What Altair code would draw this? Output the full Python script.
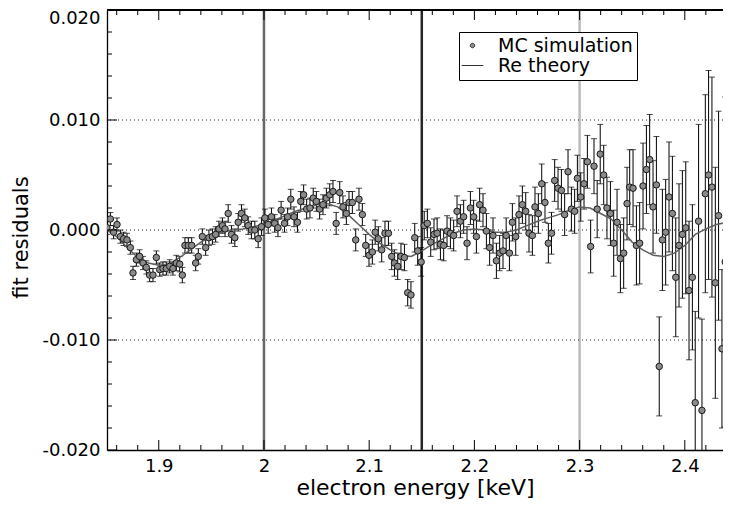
import altair as alt
import pandas as pd

# ---------------- data ----------------
ENERGY = [
    1.8508, 1.8540, 1.8571, 1.8603, 1.8635, 1.8666, 1.8698, 1.8730, 1.8755, 1.8787,
    1.8818, 1.8850, 1.8882, 1.8913, 1.8945, 1.8977, 1.9009, 1.9040, 1.9072, 1.9104,
    1.9135, 1.9167, 1.9199, 1.9224, 1.9249, 1.9281, 1.9313, 1.9351, 1.9376, 1.9414,
    1.9446, 1.9477, 1.9510, 1.9541, 1.9572, 1.9605, 1.9630, 1.9660, 1.9691, 1.9723,
    1.9755, 1.9786, 1.9818, 1.9850, 1.9881, 1.9913, 1.9945, 1.9976, 2.0009, 2.0040,
    2.0071, 2.0102, 2.0133, 2.0163, 2.0195, 2.0225, 2.0255, 2.0286, 2.0318, 2.0349,
    2.0377, 2.0406, 2.0437, 2.0468, 2.0498, 2.0529, 2.0561, 2.0593, 2.0625, 2.0656,
    2.0686, 2.0720, 2.0751, 2.0783, 2.0808, 2.0840, 2.0872, 2.0903, 2.0935, 2.0967,
    2.0998, 2.1030, 2.1057, 2.1087, 2.1119, 2.1150, 2.1183, 2.1214, 2.1240, 2.1271,
    2.1302, 2.1335, 2.1366, 2.1397, 2.1433, 2.1461, 2.1494, 2.1523, 2.1553, 2.1585,
    2.1616, 2.1646, 2.1677, 2.1708, 2.1740, 2.1772, 2.1803, 2.1835, 2.1867, 2.1898,
    2.1930, 2.1962, 2.1993, 2.2019, 2.2050, 2.2082, 2.2114, 2.2145, 2.2177, 2.2209,
    2.2240, 2.2272, 2.2302, 2.2333, 2.2361, 2.2393, 2.2424, 2.2456, 2.2488, 2.2519,
    2.2551, 2.2576, 2.2608, 2.2640, 2.2671, 2.2703, 2.2733, 2.2763, 2.2795, 2.2827,
    2.2858, 2.2890, 2.2922, 2.2953, 2.2979, 2.3011, 2.3042, 2.3074, 2.3105, 2.3137,
    2.3167, 2.3196, 2.3229, 2.3260, 2.3293, 2.3324, 2.3356, 2.3388, 2.3419, 2.3451,
    2.3476, 2.3508, 2.3540, 2.3571, 2.3603, 2.3635, 2.3666, 2.3698, 2.3730, 2.3757,
    2.3787, 2.3818, 2.3850, 2.3882, 2.3914, 2.3945, 2.3977, 2.4009, 2.4040, 2.4072,
    2.4099, 2.4131, 2.4163, 2.4195, 2.4226, 2.4258, 2.4290, 2.4321, 2.4353, 2.4384,
    2.4416, 2.4440,
]

RESIDUAL = [
    0.0002, 0.0010, -0.0002, 0.0005, -0.0006, -0.0008, -0.0009, -0.0016, -0.0039, -0.0027,
    -0.0024, -0.0030, -0.0034, -0.0041, -0.0041, -0.0025, -0.0036, -0.0035, -0.0035, -0.0033,
    -0.0035, -0.0030, -0.0031, -0.0041, -0.0014, -0.0014, -0.0014, -0.0030, -0.0024, -0.0006,
    -0.0016, -0.0007, -0.0006, -0.0004, 0.0001, 0.0004, 0.0001, 0.0015, -0.0004, -0.0007,
    0.0007, 0.0015, 0.0011, 0.0004, 0.0000, 0.0000, -0.0008, 0.0003, 0.0011, 0.0005,
    0.0012, 0.0006, 0.0002, 0.0018, 0.0006, 0.0012, 0.0028, 0.0012, 0.0007, 0.0026,
    0.0032, 0.0019, 0.0020, 0.0029, 0.0026, 0.0019, 0.0023, 0.0029, 0.0032, 0.0035,
    0.0006, 0.0034, 0.0021, 0.0015, 0.0025, 0.0025, -0.0009, 0.0028, 0.0014, -0.0014,
    -0.0023, -0.0020, -0.0002, -0.0008, -0.0018, -0.0003, -0.0003, -0.0024, -0.0030, -0.0033,
    -0.0024, -0.0025, -0.0057, -0.0059, -0.0007, -0.0019, -0.0029, 0.0004, 0.0006, -0.0011,
    -0.0004, -0.0003, -0.0013, -0.0014, -0.0001, -0.0003, -0.0005, 0.0017, 0.0008, 0.0012,
    -0.0012, 0.0020, 0.0012, -0.0006, 0.0023, 0.0018, -0.0001, -0.0016, -0.0005, -0.0028,
    -0.0021, -0.0019, -0.0005, -0.0021, 0.0007, -0.0006, 0.0014, 0.0023, 0.0017, -0.0003,
    -0.0005, 0.0021, 0.0015, 0.0042, 0.0025, -0.0012, -0.0003, 0.0045, 0.0038, 0.0036,
    0.0014, 0.0053, 0.0019, 0.0017, 0.0047, 0.0030, 0.0042, 0.0062, -0.0015, 0.0058,
    0.0019, 0.0069, 0.0050, 0.0020, 0.0015, -0.0012, 0.0007, -0.0026, -0.0021, 0.0024,
    0.0039, 0.0038, -0.0014, -0.0012, 0.0040, 0.0055, 0.0064, 0.0021, 0.0041, -0.0124,
    -0.0009, -0.0002, 0.0030, 0.0015, -0.0043, -0.0014, -0.0004, 0.0002, -0.0055, -0.0043,
    -0.0157, 0.0008, -0.0164, 0.0033, 0.0050, 0.0039, -0.0048, 0.0013, -0.0108, -0.0029,
    0.0012, -0.0006,
]

ERROR = [
    0.0006, 0.0006, 0.0006, 0.0006, 0.0006, 0.0006, 0.0006, 0.0006, 0.0006, 0.0006,
    0.0006, 0.0006, 0.0006, 0.0006, 0.0006, 0.0006, 0.0006, 0.0006, 0.0006, 0.0006,
    0.0006, 0.0007, 0.0007, 0.0007, 0.0007, 0.0007, 0.0007, 0.0007, 0.0007, 0.0007,
    0.0007, 0.0007, 0.0007, 0.0007, 0.0007, 0.0007, 0.0007, 0.0008, 0.0008, 0.0008,
    0.0008, 0.0008, 0.0008, 0.0008, 0.0008, 0.0008, 0.0008, 0.0008, 0.0008, 0.0008,
    0.0008, 0.0008, 0.0008, 0.0008, 0.0008, 0.0008, 0.0009, 0.0009, 0.0009, 0.0009,
    0.0009, 0.0009, 0.0009, 0.0009, 0.0009, 0.0009, 0.0009, 0.0009, 0.0010, 0.0010,
    0.0010, 0.0010, 0.0010, 0.0010, 0.0010, 0.0010, 0.0010, 0.0010, 0.0010, 0.0010,
    0.0010, 0.0011, 0.0011, 0.0011, 0.0011, 0.0011, 0.0011, 0.0012, 0.0012, 0.0012,
    0.0012, 0.0012, 0.0012, 0.0012, 0.0013, 0.0013, 0.0013, 0.0013, 0.0013, 0.0013,
    0.0014, 0.0014, 0.0014, 0.0014, 0.0014, 0.0014, 0.0014, 0.0014, 0.0015, 0.0015,
    0.0015, 0.0015, 0.0015, 0.0015, 0.0015, 0.0015, 0.0016, 0.0016, 0.0016, 0.0016,
    0.0016, 0.0016, 0.0016, 0.0016, 0.0017, 0.0017, 0.0017, 0.0017, 0.0017, 0.0017,
    0.0018, 0.0018, 0.0018, 0.0018, 0.0018, 0.0018, 0.0019, 0.0019, 0.0019, 0.0019,
    0.0019, 0.0020, 0.0020, 0.0020, 0.0021, 0.0022, 0.0023, 0.0024, 0.0024, 0.0025,
    0.0026, 0.0027, 0.0027, 0.0028, 0.0029, 0.0030, 0.0030, 0.0031, 0.0032, 0.0033,
    0.0034, 0.0035, 0.0036, 0.0037, 0.0039, 0.0040, 0.0041, 0.0042, 0.0044, 0.0045,
    0.0046, 0.0048, 0.0050, 0.0052, 0.0054, 0.0056, 0.0058, 0.0060, 0.0063, 0.0066,
    0.0083, 0.0088, 0.0083, 0.0090, 0.0095, 0.0100, 0.0105, 0.0095, 0.0072, 0.0150,
    0.0110, 0.0110,
]

THEORY_E = [
    1.8508, 1.860, 1.870, 1.880, 1.890, 1.900, 1.910, 1.920, 1.930, 1.940,
    1.950, 1.960, 1.970, 1.980, 1.990, 2.000, 2.010, 2.020, 2.030, 2.040,
    2.050, 2.060, 2.070, 2.080, 2.090, 2.100, 2.110, 2.120, 2.130, 2.140,
    2.150, 2.160, 2.170, 2.180, 2.190, 2.200, 2.210, 2.220, 2.230, 2.240,
    2.250, 2.260, 2.270, 2.280, 2.290, 2.300, 2.310, 2.320, 2.330, 2.340,
    2.350, 2.360, 2.370, 2.380, 2.390, 2.400, 2.410, 2.420, 2.430, 2.445,
]
THEORY_V = [
    0.0000, -0.0006, -0.0016, -0.0025, -0.0030, -0.0032, -0.0031, -0.0025, -0.0018, -0.0011,
    -0.0006, -0.0002, 0.0000, 0.0001, 0.0003, 0.0005, 0.0009, 0.0013, 0.0017, 0.0020,
    0.0023, 0.0024, 0.0021, 0.0014, 0.0005, -0.0004, -0.0012, -0.0018, -0.0023, -0.0024,
    -0.0019, -0.0013, -0.0008, -0.0003, 0.0000, 0.0001, 0.0000, -0.0002, -0.0002, 0.0000,
    0.0004, 0.0008, 0.0011, 0.0014, 0.0018, 0.0021, 0.0020, 0.0015, 0.0010, 0.0000,
    -0.0011, -0.0018, -0.0023, -0.0024, -0.0021, -0.0014, -0.0004, 0.0001, 0.0005, 0.0008,
]

SERIES = ["MC simulation", "Re theory"]
MARKER_E = [2.0, 2.15, 2.3]
MARKER_COLORS = ["#686868", "#262626", "#bcbcbc"]

X_LABELS = [1.9, 2.0, 2.1, 2.2, 2.3, 2.4]
X_MINOR = [1.86, 1.88, 1.92, 1.94, 1.96, 1.98, 2.02, 2.04, 2.06, 2.08,
           2.12, 2.14, 2.16, 2.18, 2.22, 2.24, 2.26, 2.28, 2.32, 2.34,
           2.36, 2.38, 2.42, 2.44]
Y_LABELS = [-0.02, -0.01, 0.0, 0.01, 0.02]
Y_GRID = [-0.01, 0.0, 0.01]
Y_MINOR = [-0.018, -0.016, -0.014, -0.012, -0.008, -0.006, -0.004, -0.002,
           0.002, 0.004, 0.006, 0.008, 0.012, 0.014, 0.016, 0.018]

# ---------------- tables ----------------
pts = pd.DataFrame({"E": ENERGY, "v": RESIDUAL, "err": ERROR})
pts["lo"] = pts["v"] - pts["err"]
pts["hi"] = pts["v"] + pts["err"]
theory = pd.DataFrame({"E": THEORY_E, "v": THEORY_V})
markers = pd.DataFrame({"E": MARKER_E, "c": MARKER_COLORS})
grid = pd.DataFrame({"v": Y_GRID})
xmaj = pd.DataFrame({"E": X_LABELS})
xmin = pd.DataFrame({"E": X_MINOR})
ymaj = pd.DataFrame({"v": Y_LABELS})
ymin = pd.DataFrame({"v": Y_MINOR})
legend_rows = pd.DataFrame({"E": pd.Series([], dtype=float),
                            "v": pd.Series([], dtype=float),
                            "series": pd.Series([], dtype=str)})

FONT = "DejaVu Sans"
CIRCLE = "M-0.25,0A0.25,0.25,0,1,1,0.25,0A0.25,0.25,0,1,1,-0.25,0Z"
DASH = "M-1.2,0H1.2"

xscale = alt.Scale(domain=[1.8508, 2.4363], nice=False, zero=False)
yscale = alt.Scale(domain=[-0.02, 0.02], nice=False, zero=False)

xaxis = alt.Axis(values=X_LABELS, format="~g", ticks=False, grid=False,
                 domain=True, domainColor="black", domainWidth=1.3,
                 labelFont=FONT, labelFontSize=18, labelPadding=7, labelColor="black",
                 labelFlush=False, labelOverlap=False,
                 titleFont=FONT, titleFontSize=22, titleFontWeight="normal",
                 titleColor="black", titleBaseline="alphabetic", titleY=44)
yaxis = alt.Axis(values=Y_LABELS,
                 labelExpr="(datum.value < 0 ? '-' : '') + format(abs(datum.value), '.3f')",
                 labelOffset=alt.condition("datum.value > 0.019", alt.value(8), alt.value(0)),
                 ticks=False, grid=False,
                 domain=True, domainColor="black", domainWidth=1.3,
                 labelFont=FONT, labelFontSize=18, labelPadding=7, labelColor="black",
                 labelFlush=False, labelOverlap=False,
                 titleFont=FONT, titleFontSize=21, titleFontWeight="normal",
                 titleColor="black", titleBaseline="alphabetic", titleX=-80, titleY=227)

XT = "electron energy [keV]"
YT = "fit residuals"


def X(field="E"):
    return alt.X(f"{field}:Q", scale=xscale, axis=xaxis, title=XT)


def Y(field="v"):
    return alt.Y(f"{field}:Q", scale=yscale, axis=yaxis, title=YT)


top_line = alt.Chart(xmaj).mark_rule(color="black", strokeWidth=1.3).encode(
    y=alt.value(0))

vlines = alt.Chart(markers).mark_rule(strokeWidth=2.5).encode(
    x=X(), color=alt.Color("c:N", scale=None))

gridlines = alt.Chart(grid).mark_rule(color="#222222", strokeWidth=1, strokeDash=[1, 3]).encode(
    y=Y())

curve = alt.Chart(theory).mark_line(color="#5e5e5e", strokeWidth=1.5, clip=True).encode(
    x=X(), y=Y())

bars = alt.Chart(pts).mark_rule(color="black", strokeWidth=1, clip=True).encode(
    x=X(), y=Y("lo"), y2=alt.Y2("hi"))
caps_lo = alt.Chart(pts).mark_tick(color="black", orient="horizontal", size=6,
                                   thickness=1, clip=True).encode(x=X(), y=Y("lo"))
caps_hi = alt.Chart(pts).mark_tick(color="black", orient="horizontal", size=6,
                                   thickness=1, clip=True).encode(x=X(), y=Y("hi"))

points = alt.Chart(pts).mark_point(filled=True, size=42, shape="circle", fill="#8a8a8a",
                                   stroke="#1a1a1a", strokeWidth=1, opacity=1, clip=True).encode(
    x=X(), y=Y())

legend = alt.Legend(title=None, orient="none", legendX=352, legendY=22,
                    fillColor="white", strokeColor="black", padding=4, cornerRadius=0,
                    labelFont=FONT, labelFontSize=19, labelColor="black", labelOffset=16,
                    labelLimit=400, symbolSize=324, rowPadding=0,
                    symbolStrokeWidth=1, symbolOpacity=1)

legend_layer = alt.Chart(legend_rows).mark_point(
    filled=False, color="#333333", fill="#8a8a8a", strokeWidth=1, opacity=1).encode(
    x=X(), y=Y(),
    shape=alt.Shape("series:N", scale=alt.Scale(domain=SERIES, range=[CIRCLE, DASH]),
                    legend=legend))

xt_bot = alt.Chart(xmaj).mark_rule(color="black", strokeWidth=1, clip=True).encode(
    x=X(), y=alt.value(440), y2=alt.value(430))
xt_top = alt.Chart(xmaj).mark_rule(color="black", strokeWidth=1, clip=True).encode(
    x=X(), y=alt.value(0), y2=alt.value(10))
xm_bot = alt.Chart(xmin).mark_rule(color="black", strokeWidth=1, clip=True).encode(
    x=X(), y=alt.value(440), y2=alt.value(435))
xm_top = alt.Chart(xmin).mark_rule(color="black", strokeWidth=1, clip=True).encode(
    x=X(), y=alt.value(0), y2=alt.value(5))
yt_left = alt.Chart(ymaj).mark_rule(color="black", strokeWidth=1).encode(
    y=Y(), x=alt.value(0), x2=alt.value(10))
ym_left = alt.Chart(ymin).mark_rule(color="black", strokeWidth=1).encode(
    y=Y(), x=alt.value(0), x2=alt.value(5))

chart = alt.layer(
    vlines, gridlines, bars, caps_lo, caps_hi, curve, points, legend_layer,
    xt_bot, xt_top, xm_bot, xm_top, yt_left, ym_left, top_line,
).properties(
    width=616, height=440,
    autosize=alt.AutoSizeParams(type="none"),
    padding={"left": 99, "top": 2, "right": 0, "bottom": 52},
).configure_view(stroke="transparent", strokeWidth=0)

chart.save("out.html", embed_options={"renderer": "svg", "actions": False})
